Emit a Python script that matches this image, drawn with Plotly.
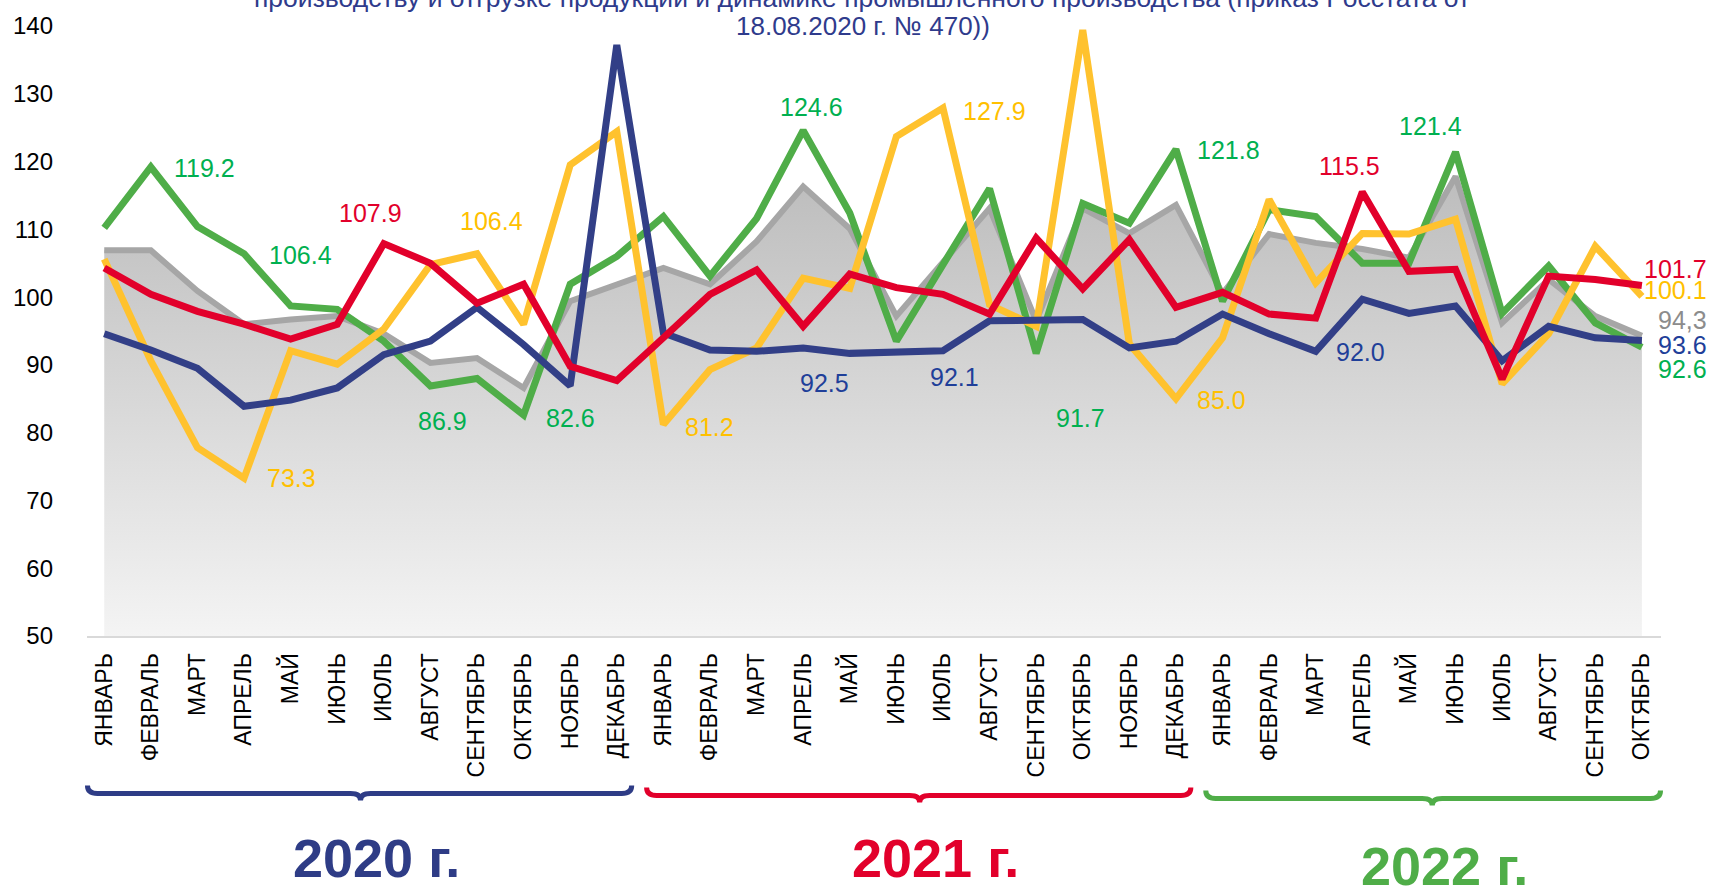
import plotly.graph_objects as go

months = ["ЯНВАРЬ", "ФЕВРАЛЬ", "МАРТ", "АПРЕЛЬ", "МАЙ", "ИЮНЬ", "ИЮЛЬ", "АВГУСТ",
          "СЕНТЯБРЬ", "ОКТЯБРЬ", "НОЯБРЬ", "ДЕКАБРЬ"]
categories = months + months + months[:10]
years = ["2020 г.", "2021 г.", "2022 г."]

grey = [106.9, 106.9, 100.9, 96.0, 96.7, 97.2, 94.6, 90.3, 91.0, 86.6, 99.4, 101.9,
        104.3, 101.9, 108.2, 116.3, 110.1, 97.2, 105.3, 113.1, 96.5, 113.1, 109.4, 113.6,
        100.5, 109.3, 108.0, 107.1, 105.8, 117.8, 96.2, 102.6, 97.2, 94.3]
green = [110.2, 119.2, 110.4, 106.4, 98.7, 98.2, 93.5, 86.9, 88.0, 82.6, 101.9, 106.0,
         111.9, 103.1, 111.6, 124.6, 112.4, 93.5, 104.8, 116.0, 91.7, 113.8, 110.9, 121.8,
         99.4, 112.9, 111.9, 105.0, 105.0, 121.4, 97.6, 104.6, 96.2, 92.6]
yellow = [105.6, 90.6, 77.8, 73.3, 92.1, 90.1, 95.3, 104.8, 106.4, 96.0, 119.5, 124.4,
          81.2, 89.3, 92.5, 102.8, 101.3, 123.7, 127.9, 98.9, 95.7, 139.4, 93.1, 85.0,
          94.0, 114.4, 102.1, 109.4, 109.3, 111.5, 87.2, 94.6, 107.5, 100.1]
red = [104.3, 100.4, 97.9, 96.0, 93.8, 96.0, 107.9, 105.0, 99.1, 101.9, 89.8, 87.7,
       94.0, 100.4, 104.0, 95.7, 103.4, 101.4, 100.4, 97.5, 108.7, 101.2, 108.5, 98.5,
       100.7, 97.5, 96.9, 115.5, 103.8, 104.1, 87.9, 103.1, 102.6, 101.7]
blue = [94.6, 92.2, 89.5, 83.9, 84.8, 86.6, 91.5, 93.5, 98.5, 93.0, 86.9, 137.2,
        94.7, 92.2, 92.0, 92.5, 91.7, 92.0, 92.1, 96.5, 96.6, 96.7, 92.5, 93.5,
        97.5, 94.6, 92.0, 99.7, 97.6, 98.7, 90.6, 95.7, 94.0, 93.6]

title_lines = ["производству и отгрузке продукции и динамике промышленного производства (приказ Росстата от",
               "18.08.2020 г. № 470))"]

series = {"grey": grey, "green": green, "yellow": yellow, "red": red, "blue": blue}
line_colors = {"grey": "#a6a6a6", "green": "#4fad48", "yellow": "#ffc22e",
               "red": "#e2002b", "blue": "#323f87"}
label_colors = {"grey": "#8c8c8c", "green": "#00b050", "yellow": "#ffc000",
                "red": "#e2002b", "blue": "#1f3f99"}

# (series, index, text, dx px, dy px downward, anchor)
labels = [
    ("green", 1, "119.2", 54, 1, "center"),
    ("green", 3, "106.4", 56, 1, "center"),
    ("red", 6, "107.9", -13, -31, "center"),
    ("yellow", 8, "106.4", 14, -33, "center"),
    ("green", 7, "86.9", 12, 35, "center"),
    ("yellow", 3, "73.3", 47, 0, "center"),
    ("green", 9, "82.6", 47, 3, "center"),
    ("yellow", 12, "81.2", 46, 2, "center"),
    ("green", 15, "124.6", 8, -23, "center"),
    ("blue", 15, "92.5", 21, 35, "center"),
    ("blue", 18, "92.1", 12, 26, "center"),
    ("yellow", 18, "127.9", 52, 3, "center"),
    ("green", 20, "91.7", 44, 65, "center"),
    ("green", 23, "121.8", 53, 1, "center"),
    ("yellow", 23, "85.0", 46, 1, "center"),
    ("red", 27, "115.5", -13, -26, "center"),
    ("blue", 26, "92.0", 45, 1, "center"),
    ("green", 29, "121.4", -25, -26, "center"),
    ("red", 33, "101.7", 67, -17, "right"),
    ("yellow", 33, "100.1", 67, -6, "right"),
    ("grey", 33, "94,3", 67, -16, "right"),
    ("blue", 33, "93.6", 67, 5, "right"),
    ("green", 33, "92.6", 67, 22, "right"),
]

W, H = 1711, 887
ML, MR, MT, MB = 87, 50, 24, 251
XMIN, XMAX = -0.37, 33.41
YMIN, YMAX = 50, 140
PW = W - ML - MR
PH = H - MT - MB

x = list(range(len(categories)))

fig = go.Figure()
fig.add_trace(go.Scatter(
    x=x, y=grey, mode="lines", line=dict(color=line_colors["grey"], width=6),
    fill="tozeroy",
    fillgradient=dict(type="vertical", start=50, stop=140,
                      colorscale=[[0, "#f4f4f4"], [1, "#ababab"]]),
    hoverinfo="skip", showlegend=False))
for name in ["green", "yellow", "blue", "red"]:
    fig.add_trace(go.Scatter(x=x, y=series[name], mode="lines",
                             line=dict(color=line_colors[name], width=7),
                             showlegend=False))

annotations = []
for name, i, txt, dx, dy, anc in labels:
    annotations.append(dict(
        x=i, y=series[name][i], xref="x", yref="y", text=txt, showarrow=False,
        xanchor=anc, yanchor="middle", xshift=dx, yshift=-dy,
        font=dict(family="Liberation Sans, Arial", size=25, color=label_colors[name])))


def px_to_xpaper(px):
    return (px - ML) / PW


def idx_to_xpaper(i):
    return (i - XMIN) / (XMAX - XMIN)


def py_to_ypaper(py):
    return (H - MB - py) / PH


# Title (first line cut by the page top)
annotations.append(dict(x=px_to_xpaper(862), y=py_to_ypaper(-4), xref="paper", yref="paper",
                        text=title_lines[0], showarrow=False, xanchor="center", yanchor="middle",
                        font=dict(family="Liberation Sans, Arial", size=26.5, color="#2f3b8c")))
annotations.append(dict(x=px_to_xpaper(863), y=py_to_ypaper(24), xref="paper", yref="paper",
                        text=title_lines[1], showarrow=False, xanchor="center", yanchor="middle",
                        font=dict(family="Liberation Sans, Arial", size=26, color="#2f3b8c")))

# Year braces and labels
year_colors = ["#2e3c86", "#e2002b", "#4fad48"]
year_spans = [(0, 11), (12, 23), (24, 33)]
brace_y = [794, 796, 799]
label_pos = [(5.84, 859), (17.83, 859), (28.76, 867)]
shapes = []
for k, (a, b) in enumerate(year_spans):
    x0 = idx_to_xpaper(a - 0.36)
    x1 = idx_to_xpaper(b + 0.32) if k < 2 else idx_to_xpaper(b + 0.4)
    xm = idx_to_xpaper((a + b) / 2)
    d = 10 / PW
    yb = py_to_ypaper(brace_y[k])
    ye = py_to_ypaper(brace_y[k] - 8)
    yc = py_to_ypaper(brace_y[k] + 7)
    path = (f"M {x0},{ye} Q {x0},{yb} {x0 + d},{yb} L {xm - d},{yb} "
            f"Q {xm},{yb} {xm},{yc} Q {xm},{yb} {xm + d},{yb} "
            f"L {x1 - d},{yb} Q {x1},{yb} {x1},{ye}")
    shapes.append(dict(type="path", path=path, xref="paper", yref="paper",
                       line=dict(color=year_colors[k], width=5)))
    lx, ly = label_pos[k]
    annotations.append(dict(x=idx_to_xpaper(lx), y=py_to_ypaper(ly), xref="paper", yref="paper",
                            text=f"<b>{years[k]}</b>", showarrow=False,
                            xanchor="center", yanchor="middle",
                            font=dict(family="Liberation Sans, Arial", size=54,
                                      color=year_colors[k])))

fig.update_layout(
    width=W, height=H,
    margin=dict(l=ML, r=MR, t=MT, b=MB),
    paper_bgcolor="white", plot_bgcolor="white",
    annotations=annotations, shapes=shapes,
    font=dict(family="Liberation Sans, Arial", color="black"),
    xaxis=dict(range=[XMIN, XMAX], tickmode="array", tickvals=x, ticktext=categories,
               tickangle=-90, showgrid=False, zeroline=False, showline=True,
               linecolor="#d9d9d9", linewidth=2, ticks="",
               tickfont=dict(size=23, color="black"), ticklabelstandoff=6),
    yaxis=dict(range=[YMIN, YMAX], dtick=10, showgrid=False, zeroline=False,
               showline=False, ticks="", tickfont=dict(size=24, color="black"),
               ticklabelstandoff=33),
    hovermode=False,
)

fig.write_html("out.html", config={"displayModeBar": False},
               post_script="document.body.style.margin='0';document.body.style.overflow='hidden';")
